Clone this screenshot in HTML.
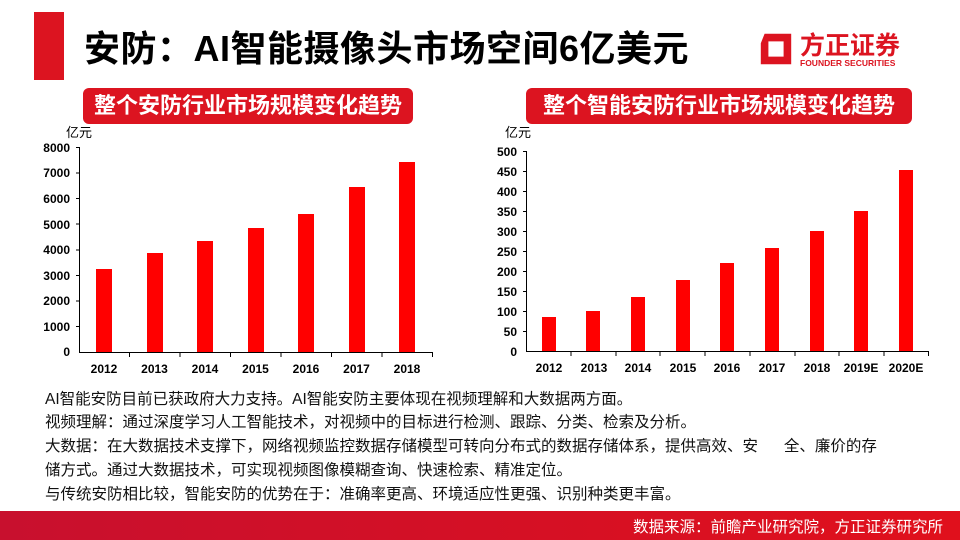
<!DOCTYPE html>
<html><head><meta charset="utf-8"><style>
html,body{margin:0;padding:0;background:#fff;}
body{width:960px;height:540px;position:relative;overflow:hidden;font-family:"Liberation Sans","Noto Sans CJK SC",sans-serif;}
.abs{position:absolute;}
.sub{background:#dc1420;color:#fff;font-weight:bold;font-size:22px;border-radius:6px;text-align:center;line-height:36px;top:88px;height:36px;}
.txt{left:45px;font-size:15.5px;color:#111;white-space:nowrap;}
</style></head><body>
<div class="abs" style="left:34px;top:12px;width:30px;height:68px;background:#dc1420"></div>
<div class="abs" style="left:84px;top:20px;font-size:36px;font-weight:bold;color:#000;white-space:nowrap;letter-spacing:0.5px">安防：AI智能摄像头市场空间6亿美元</div>
<svg class="abs" style="left:757px;top:30px" width="38" height="38" viewBox="0 0 40 40"><path d="M8 4 L36 4 L36 36 L4 36 L4 14 Z M12 12 L12 28 L28 28 L28 12 Z" fill="#dc1420" fill-rule="evenodd"/></svg>
<div class="abs" style="left:800px;top:26px;font-size:25px;font-weight:bold;color:#dc1420;white-space:nowrap">方正证券</div>
<div class="abs" style="left:800px;top:58px;font-size:8.5px;font-weight:bold;color:#dc1420;white-space:nowrap">FOUNDER SECURITIES</div>
<div class="abs sub" style="left:83px;width:330px">整个安防行业市场规模变化趋势</div>
<div class="abs sub" style="left:526px;width:386px">整个智能安防行业市场规模变化趋势</div>
<svg class="abs" style="left:0;top:0" width="960" height="400">
<g font-family="Liberation Sans,Noto Sans CJK SC,sans-serif" font-size="12" font-weight="bold" fill="#000">
<text x="66" y="137" font-weight="normal" font-size="13">亿元</text>
<g text-anchor="end">
<text x="70" y="152">8000</text><text x="70" y="177">7000</text><text x="70" y="203">6000</text><text x="70" y="229">5000</text><text x="70" y="254">4000</text><text x="70" y="280">3000</text><text x="70" y="305">2000</text><text x="70" y="331">1000</text><text x="70" y="356">0</text>
</g>
<g stroke="#000" stroke-width="1">
<line x1="79.5" y1="147" x2="79.5" y2="352"/><line x1="79" y1="352.5" x2="433" y2="352.5"/>
<line x1="76" y1="147.5" x2="80" y2="147.5"/><line x1="76" y1="173" x2="80" y2="173"/><line x1="76" y1="198.5" x2="80" y2="198.5"/><line x1="76" y1="224" x2="80" y2="224"/><line x1="76" y1="250" x2="80" y2="250"/><line x1="76" y1="275.5" x2="80" y2="275.5"/><line x1="76" y1="301" x2="80" y2="301"/><line x1="76" y1="326.5" x2="80" y2="326.5"/>
<line x1="129.5" y1="352" x2="129.5" y2="357"/><line x1="180" y1="352" x2="180" y2="357"/><line x1="230.5" y1="352" x2="230.5" y2="357"/><line x1="281" y1="352" x2="281" y2="357"/><line x1="331.5" y1="352" x2="331.5" y2="357"/><line x1="382" y1="352" x2="382" y2="357"/><line x1="432.5" y1="352" x2="432.5" y2="357"/>
</g>
<g fill="#ff0000">
<rect x="96" y="269" width="16" height="83"/><rect x="147" y="253" width="16" height="99"/><rect x="197" y="241" width="16" height="111"/><rect x="248" y="228" width="16" height="124"/><rect x="298" y="214" width="16" height="138"/><rect x="349" y="187" width="16" height="165"/><rect x="399" y="162" width="16" height="190"/>
</g>
<g text-anchor="middle">
<text x="104" y="373">2012</text><text x="154.5" y="373">2013</text><text x="205" y="373">2014</text><text x="255.5" y="373">2015</text><text x="306" y="373">2016</text><text x="356.5" y="373">2017</text><text x="407" y="373">2018</text>
</g>

<text x="505" y="137" font-weight="normal" font-size="13">亿元</text>
<g text-anchor="end">
<text x="517" y="156">500</text><text x="517" y="176">450</text><text x="517" y="196">400</text><text x="517" y="216">350</text><text x="517" y="236">300</text><text x="517" y="256">250</text><text x="517" y="276">200</text><text x="517" y="296">150</text><text x="517" y="316">100</text><text x="517" y="336">50</text><text x="517" y="356">0</text>
</g>
<g stroke="#000" stroke-width="1">
<line x1="526.5" y1="151" x2="526.5" y2="352"/><line x1="526" y1="351.5" x2="929" y2="351.5"/>
<line x1="523" y1="151.5" x2="527" y2="151.5"/><line x1="523" y1="171.5" x2="527" y2="171.5"/><line x1="523" y1="191.5" x2="527" y2="191.5"/><line x1="523" y1="211.5" x2="527" y2="211.5"/><line x1="523" y1="231.5" x2="527" y2="231.5"/><line x1="523" y1="251.5" x2="527" y2="251.5"/><line x1="523" y1="271.5" x2="527" y2="271.5"/><line x1="523" y1="291.5" x2="527" y2="291.5"/><line x1="523" y1="311.5" x2="527" y2="311.5"/><line x1="523" y1="331.5" x2="527" y2="331.5"/>
<line x1="571" y1="351" x2="571" y2="356"/><line x1="616" y1="351" x2="616" y2="356"/><line x1="660" y1="351" x2="660" y2="356"/><line x1="705" y1="351" x2="705" y2="356"/><line x1="750" y1="351" x2="750" y2="356"/><line x1="795" y1="351" x2="795" y2="356"/><line x1="839" y1="351" x2="839" y2="356"/><line x1="884" y1="351" x2="884" y2="356"/><line x1="928.5" y1="351" x2="928.5" y2="356"/>
</g>
<g fill="#ff0000">
<rect x="542" y="317" width="14" height="34"/><rect x="586" y="311" width="14" height="40"/><rect x="631" y="297" width="14" height="54"/><rect x="676" y="280" width="14" height="71"/><rect x="720" y="263" width="14" height="88"/><rect x="765" y="248" width="14" height="103"/><rect x="810" y="231" width="14" height="120"/><rect x="854" y="211" width="14" height="140"/><rect x="899" y="170" width="14" height="181"/>
</g>
<g text-anchor="middle">
<text x="549" y="372">2012</text><text x="594" y="372">2013</text><text x="638" y="372">2014</text><text x="683" y="372">2015</text><text x="727" y="372">2016</text><text x="772" y="372">2017</text><text x="817" y="372">2018</text><text x="861" y="372">2019E</text><text x="906" y="372">2020E</text>
</g>
</g>
</svg>
<div class="abs txt" style="top:387px">AI智能安防目前已获政府大力支持。AI智能安防主要体现在视频理解和大数据两方面。</div>
<div class="abs txt" style="top:410px">视频理解：通过深度学习人工智能技术，对视频中的目标进行检测、跟踪、分类、检索及分析。</div>
<div class="abs txt" style="top:434px">大数据：在大数据技术支撑下，网络视频监控数据存储模型可转向分布式的数据存储体系，提供高效、安&nbsp;&nbsp;&nbsp;&nbsp;&nbsp;&nbsp;全、廉价的存</div>
<div class="abs txt" style="top:458px">储方式。通过大数据技术，可实现视频图像模糊查询、快速检索、精准定位。</div>
<div class="abs txt" style="top:482px">与传统安防相比较，智能安防的优势在于：准确率更高、环境适应性更强、识别种类更丰富。</div>
<div class="abs" style="left:0;top:511px;width:960px;height:29px;background:linear-gradient(90deg,#c8102e,#e0101c)"></div>
<div class="abs" style="right:17px;top:515px;color:#fff;font-size:15.5px;white-space:nowrap">数据来源：前瞻产业研究院，方正证券研究所</div>
</body></html>
